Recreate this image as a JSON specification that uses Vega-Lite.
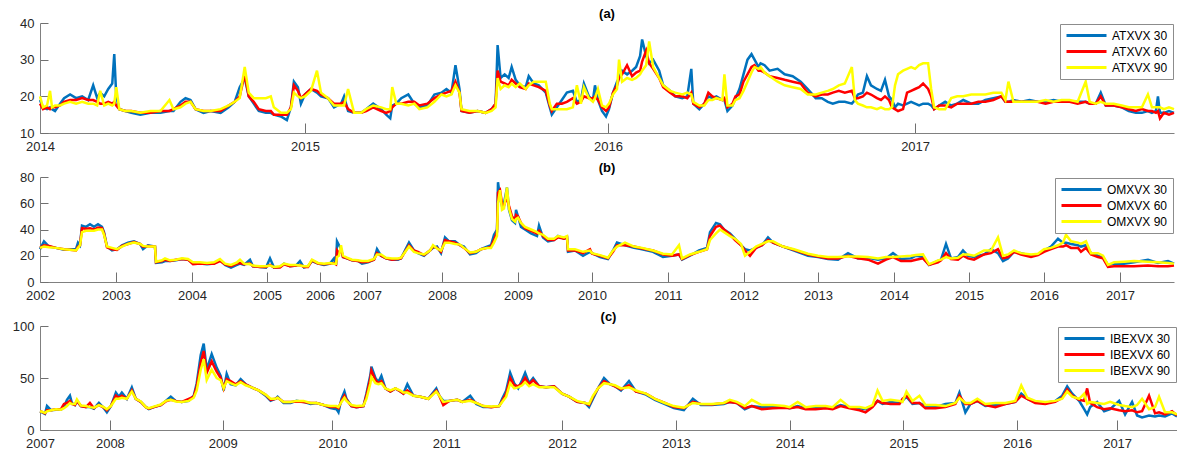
{
"$schema": "https://vega.github.io/schema/vega-lite/v6.json",
"padding": {"left": 12, "top": 8, "right": 0, "bottom": 0},
"bounds": "flush",
"spacing": 44,
"config": {
 "font": "Liberation Sans",
 "view": {"stroke": null},
 "axis": {"grid": false, "domainColor": "#808080", "tickColor": "#707070", "tickWidth": 1, "labelColor": "#262626", "labelFontSize": 13, "labelFont": "Liberation Sans", "labelFlush": false, "labelOverlap": false, "title": null},
 "axisX": {"tickSize": -10, "labelPadding": 17},
 "axisY": {"tickSize": -8, "labelPadding": 14},
 "title": {"fontSize": 13, "fontWeight": "bold", "color": "#000000", "offset": -4, "anchor": "middle", "frame": "group", "font": "Liberation Sans"},
 "legend": {"labelFontSize": 12, "labelColor": "#000000", "labelFont": "Liberation Sans", "padding": 5, "rowPadding": 3, "strokeColor": "#8c8c8c", "fillColor": "#ffffff", "cornerRadius": 0}
},
"resolve": {"scale": {"color": "independent"}},
"vconcat": [
{
 "width": 1134, "height": 110,
 "title": {"text": "(a)"},
 "data": {"values": [
{"t":0,"30":19,"60":18,"90":20},{"t":3,"30":17,"60":16.5,"90":17},{"t":7,"30":16.5,"60":17,"90":17.5},{"t":10,"30":17,"60":16.5,"90":21.5},{"t":12,"30":16.5,"60":17,"90":17},{"t":15,"30":16,"60":17,"90":17.5},{"t":20,"30":18,"60":17.5,"90":17.5},{"t":24,"30":19.5,"60":18.5,"90":18},{"t":30,"30":20.5,"60":19,"90":18.5},{"t":36,"30":19.5,"60":19,"90":18},{"t":42,"30":20,"60":19.5,"90":18.5},{"t":48,"30":19,"60":19,"90":18},{"t":53,"30":23,"60":19,"90":18},{"t":57,"30":19.5,"60":18.5,"90":17.5},{"t":60,"30":21,"60":18,"90":21.5},{"t":64,"30":20,"60":18,"90":17.5},{"t":68,"30":22,"60":18.5,"90":18},{"t":72,"30":23.5,"60":18,"90":17.5},{"t":74,"30":31.5,"60":18.5,"90":18},{"t":76,"30":20,"60":17.5,"90":22.5},{"t":79,"30":16.5,"60":16.5,"90":16.5},{"t":85,"30":16,"60":16,"90":16},{"t":91,"30":15.5,"60":16,"90":16},{"t":100,"30":15,"60":15.5,"90":15.5},{"t":110,"30":15.5,"60":15.5,"90":16},{"t":120,"30":15.5,"60":16,"90":16},{"t":129,"30":16,"60":16,"90":19},{"t":133,"30":16,"60":16.5,"90":16.5},{"t":140,"30":18.5,"60":17.5,"90":17},{"t":145,"30":19.5,"60":18.5,"90":18},{"t":150,"30":19,"60":18.5,"90":18.5},{"t":155,"30":16.5,"60":16.5,"90":16.5},{"t":163,"30":15.5,"60":16,"90":16},{"t":170,"30":16,"60":16,"90":16},{"t":180,"30":15.5,"60":16,"90":16.5},{"t":188,"30":17,"60":17.5,"90":17.5},{"t":194,"30":18.5,"60":18.5,"90":18.5},{"t":199,"30":22.5,"60":20,"90":19.5},{"t":204,"30":25,"60":26,"90":28},{"t":208,"30":20,"60":20,"90":21},{"t":213,"30":18,"60":18.5,"90":19.5},{"t":218,"30":16,"60":16.5,"90":19.5},{"t":225,"30":15.5,"60":16,"90":19.5},{"t":230,"30":15.5,"60":16,"90":20},{"t":233,"30":15,"60":15,"90":17},{"t":240,"30":14.5,"60":15,"90":15.5},{"t":246,"30":13.5,"60":15,"90":15.5},{"t":250,"30":17,"60":17,"90":16.5},{"t":253,"30":24,"60":23,"90":21},{"t":257,"30":22.5,"60":21.5,"90":20},{"t":260,"30":18,"60":19.5,"90":19.5},{"t":264,"30":20.5,"60":20.5,"90":20},{"t":270,"30":22,"60":22,"90":21.5},{"t":276,"30":21,"60":21.5,"90":27},{"t":280,"30":20,"60":20.5,"90":21},{"t":287,"30":19.5,"60":19.5,"90":19.5},{"t":293,"30":17,"60":18,"90":17.5},{"t":300,"30":18,"60":18,"90":17.5},{"t":303,"30":20,"60":18.5,"90":17.5},{"t":307,"30":16,"60":16.5,"90":22},{"t":313,"30":15.5,"60":15.5,"90":15.5},{"t":320,"30":15.5,"60":15.5,"90":15.5},{"t":325,"30":16.5,"60":16,"90":16.5},{"t":332,"30":18,"60":17,"90":17.5},{"t":340,"30":16.5,"60":16,"90":17},{"t":345,"30":15,"60":15.5,"90":16.5},{"t":349,"30":14,"60":16,"90":16.5},{"t":351,"30":17.5,"60":17,"90":22.5},{"t":355,"30":18,"60":18,"90":18},{"t":360,"30":19.5,"60":18,"90":18},{"t":367,"30":20.5,"60":18.5,"90":17.5},{"t":373,"30":18,"60":18.5,"90":18},{"t":378,"30":17,"60":17.5,"90":16.5},{"t":386,"30":17.5,"60":18,"90":17},{"t":393,"30":20.5,"60":19.5,"90":18.5},{"t":400,"30":21,"60":20.5,"90":20.5},{"t":405,"30":22,"60":21,"90":20},{"t":410,"30":21,"60":21.5,"90":20.5},{"t":414,"30":28.5,"60":24,"90":23},{"t":418,"30":22,"60":21,"90":21},{"t":420,"30":16,"60":16,"90":16.5},{"t":428,"30":15.5,"60":15.5,"90":16},{"t":436,"30":16,"60":16,"90":16},{"t":444,"30":15.5,"60":15.5,"90":15.5},{"t":450,"30":16.5,"60":16.5,"90":16},{"t":454,"30":18,"60":18,"90":17},{"t":456,"30":34,"60":27,"90":25},{"t":459,"30":25,"60":24,"90":22},{"t":463,"30":26,"60":23.5,"90":23},{"t":467,"30":25,"60":23,"90":22.5},{"t":470,"30":28,"60":24.5,"90":23.5},{"t":474,"30":24.5,"60":23.5,"90":22.5},{"t":478,"30":23,"60":22.5,"90":23.5},{"t":484,"30":22.5,"60":22,"90":22},{"t":487,"30":25.5,"60":23.5,"90":23},{"t":492,"30":23.5,"60":23,"90":24},{"t":497,"30":23,"60":22.5,"90":24},{"t":504,"30":21,"60":21.5,"90":24},{"t":508,"30":17,"60":17.5,"90":18},{"t":510,"30":15,"60":16,"90":16.5},{"t":515,"30":17,"60":18,"90":16.5},{"t":520,"30":19,"60":18,"90":16.5},{"t":525,"30":21,"60":18.5,"90":16.5},{"t":531,"30":21.5,"60":19.5,"90":17},{"t":535,"30":18.5,"60":18,"90":23},{"t":539,"30":19,"60":18.5,"90":18},{"t":542,"30":23.5,"60":20,"90":22.5},{"t":547,"30":20,"60":19.5,"90":19.5},{"t":551,"30":19,"60":19.5,"90":18.5},{"t":553,"30":23,"60":20,"90":19.5},{"t":556,"30":19,"60":19,"90":22},{"t":560,"30":16,"60":17,"90":17.5},{"t":564,"30":14.5,"60":16,"90":17},{"t":567,"30":16.5,"60":17,"90":18},{"t":571,"30":21,"60":21,"90":20.5},{"t":575,"30":24,"60":23,"90":22},{"t":577,"30":25,"60":25,"90":30},{"t":580,"30":27,"60":26,"90":24},{"t":585,"30":26,"60":28.5,"90":25},{"t":590,"30":27,"60":25.5,"90":24.5},{"t":594,"30":28,"60":26.5,"90":25},{"t":598,"30":31,"60":27,"90":26},{"t":600,"30":35.5,"60":29.5,"90":27},{"t":604,"30":31,"60":32.5,"90":28.5},{"t":607,"30":29,"60":29,"90":35},{"t":611,"30":30,"60":27.5,"90":28},{"t":617,"30":27,"60":25,"90":25},{"t":621,"30":23,"60":22.5,"90":23},{"t":628,"30":21.5,"60":21,"90":21.5},{"t":633,"30":20,"60":20,"90":21},{"t":640,"30":19.5,"60":20,"90":20.5},{"t":645,"30":20,"60":19.5,"90":21},{"t":649,"30":27.5,"60":21,"90":20.5},{"t":651,"30":18,"60":18,"90":18.5},{"t":657,"30":16.5,"60":17,"90":17.5},{"t":662,"30":18,"60":18,"90":17.5},{"t":666,"30":20,"60":21,"90":19},{"t":670,"30":19.5,"60":20,"90":19},{"t":674,"30":20,"60":19.5,"90":19.5},{"t":680,"30":19,"60":19,"90":19},{"t":682,"30":19,"60":19.5,"90":26},{"t":685,"30":16,"60":17,"90":17.5},{"t":690,"30":17.5,"60":18,"90":17.5},{"t":693,"30":19.5,"60":20,"90":19},{"t":697,"30":22,"60":20.5,"90":19.5},{"t":701,"30":26,"60":24,"90":21.5},{"t":705,"30":30,"60":26,"90":24},{"t":709,"30":31.5,"60":28,"90":26.5},{"t":712,"30":30,"60":28.5,"90":28},{"t":716,"30":28,"60":27,"90":27.5},{"t":718,"30":29,"60":27,"90":28},{"t":722,"30":28.5,"60":26.5,"90":26.5},{"t":727,"30":27,"60":25.5,"90":25.5},{"t":735,"30":27.5,"60":25,"90":24},{"t":742,"30":26,"60":24.5,"90":23},{"t":750,"30":25.5,"60":24,"90":22.5},{"t":758,"30":24,"60":23.5,"90":22},{"t":765,"30":22,"60":21,"90":20.5},{"t":773,"30":19.5,"60":20,"90":20.5},{"t":779,"30":19.5,"60":20.5,"90":21},{"t":785,"30":18.5,"60":20.5,"90":21.5},{"t":790,"30":18,"60":21,"90":22},{"t":796,"30":18.5,"60":21.5,"90":23},{"t":802,"30":18.5,"60":21,"90":23.5},{"t":809,"30":18,"60":21.5,"90":28},{"t":812,"30":19,"60":19.5,"90":19},{"t":815,"30":20.5,"60":19.5,"90":18},{"t":820,"30":21,"60":20,"90":17.5},{"t":824,"30":25.5,"60":21,"90":17},{"t":828,"30":23,"60":20.5,"90":17},{"t":834,"30":22,"60":19.5,"90":16.5},{"t":838,"30":21.5,"60":19,"90":17},{"t":842,"30":24.5,"60":20,"90":16.5},{"t":846,"30":20,"60":19,"90":16.5},{"t":849,"30":19,"60":17,"90":17},{"t":852,"30":17,"60":16.5,"90":23},{"t":855,"30":18,"60":16,"90":26},{"t":860,"30":17.5,"60":16.5,"90":27},{"t":864,"30":18,"60":21,"90":27.5},{"t":868,"30":18.5,"60":21.5,"90":28},{"t":872,"30":18,"60":22,"90":27.5},{"t":876,"30":17.5,"60":22.5,"90":28.5},{"t":880,"30":18,"60":23.5,"90":29},{"t":885,"30":18,"60":22,"90":29},{"t":888,"30":17.5,"60":20,"90":22},{"t":891,"30":16.5,"60":16.5,"90":17},{"t":896,"30":17.5,"60":17.5,"90":16.5},{"t":902,"30":18.5,"60":17.5,"90":16.5},{"t":908,"30":17.5,"60":17,"90":19.5},{"t":914,"30":18,"60":18,"90":20},{"t":920,"30":19,"60":18,"90":20},{"t":928,"30":18,"60":18,"90":20.5},{"t":935,"30":18,"60":18.5,"90":20.5},{"t":942,"30":19,"60":18.5,"90":20.5},{"t":950,"30":19.5,"60":19,"90":21},{"t":958,"30":20,"60":20,"90":21},{"t":962,"30":18.5,"60":18.5,"90":19},{"t":965,"30":18.5,"60":18.5,"90":24},{"t":970,"30":19,"60":18.5,"90":18.5},{"t":978,"30":18.5,"60":18.5,"90":18.5},{"t":986,"30":19,"60":18.5,"90":18.5},{"t":994,"30":18.5,"60":18.5,"90":18.5},{"t":1002,"30":18.5,"60":18,"90":19},{"t":1010,"30":19,"60":18.5,"90":18.5},{"t":1018,"30":18.5,"60":18.5,"90":19},{"t":1026,"30":18.5,"60":18.5,"90":19},{"t":1034,"30":18.5,"60":18,"90":18.5},{"t":1042,"30":18.5,"60":18.5,"90":24},{"t":1046,"30":18,"60":18,"90":18.5},{"t":1052,"30":18,"60":18,"90":18},{"t":1057,"30":21,"60":20,"90":18.5},{"t":1062,"30":17.5,"60":17.5,"90":18},{"t":1070,"30":17.5,"60":17.5,"90":18},{"t":1078,"30":17,"60":17,"90":17.5},{"t":1085,"30":16,"60":16.5,"90":17},{"t":1092,"30":15.5,"60":16,"90":17},{"t":1098,"30":15.5,"60":16.5,"90":17},{"t":1104,"30":16,"60":16,"90":20.5},{"t":1108,"30":15.5,"60":16,"90":17},{"t":1112,"30":16,"60":15.5,"90":17},{"t":1114,"30":20,"60":16,"90":17},{"t":1116,"30":15.5,"60":14,"90":17},{"t":1120,"30":15.5,"60":15.5,"90":16.5},{"t":1125,"30":16,"60":15,"90":17},{"t":1130,"30":15.5,"60":15.5,"90":16.5}
 ]},
 "transform": [{"fold": ["30","60","90"], "as": ["k","v"]}],
 "mark": {"type": "line", "strokeWidth": 2.5},
 "encoding": {
  "x": {"field": "t", "type": "quantitative", "scale": {"domain": [0,1130], "nice": false, "zero": false}, "axis": {"values": [0,264,566,872], "labelExpr": "['2014','2015','2016','2017'][indexof([0,264,566,872], datum.value)]"}},
  "y": {"field": "v", "type": "quantitative", "scale": {"domain": [10,40], "nice": false, "zero": false}, "axis": {"values": [10,20,30,40]}},
  "color": {"field": "k", "type": "nominal", "scale": {"domain": ["30","60","90"], "range": ["#0072BD","#FF0000","#FFFF00"]}, "legend": {"orient": "top-right", "offset": 1, "title": null, "symbolType": "M-1,0H7", "symbolSize": 100, "symbolStrokeWidth": 3, "labelOffset": 34, "labelExpr": "'ATXVX ' + datum.label"}}
 }
},
{
 "width": 1134, "height": 105,
 "title": {"text": "(b)"},
 "data": {"values": [
{"t":0,"30":25,"60":26,"90":26},{"t":4,"30":31,"60":28,"90":27},{"t":9,"30":27,"60":27.5,"90":26.5},{"t":16,"30":26,"60":26,"90":26},{"t":24,"30":24.5,"60":25,"90":25},{"t":30,"30":25,"60":24.5,"90":24.5},{"t":36,"30":25,"60":24,"90":24},{"t":38,"30":30,"60":27,"90":26},{"t":40,"30":28,"60":28,"90":28},{"t":42,"30":43,"60":41,"90":38},{"t":46,"30":42,"60":40.5,"90":39},{"t":50,"30":44,"60":41,"90":39},{"t":54,"30":42,"60":40,"90":39},{"t":58,"30":44,"60":41.5,"90":40},{"t":62,"30":42,"60":41,"90":40},{"t":64,"30":38,"60":37,"90":36},{"t":67,"30":27,"60":26.5,"90":27},{"t":72,"30":24,"60":25,"90":26},{"t":77,"30":25,"60":24.5,"90":25},{"t":82,"30":28,"60":27.5,"90":27},{"t":88,"30":30,"60":29,"90":29},{"t":94,"30":31,"60":30.5,"90":30},{"t":100,"30":29,"60":29,"90":29},{"t":103,"30":25,"60":27,"90":27.5},{"t":108,"30":28,"60":27.5,"90":27},{"t":115,"30":27,"60":27,"90":27},{"t":116,"30":14.5,"60":15,"90":15.5},{"t":122,"30":15,"60":16,"90":16.5},{"t":125,"30":16,"60":17,"90":18},{"t":130,"30":16,"60":16,"90":16.5},{"t":136,"30":16.5,"60":17,"90":17},{"t":142,"30":17.5,"60":17.5,"90":18},{"t":148,"30":17,"60":17,"90":17.5},{"t":153,"30":14.5,"60":13.5,"90":15},{"t":160,"30":14,"60":14,"90":15},{"t":167,"30":13.5,"60":14,"90":14.5},{"t":174,"30":14,"60":14,"90":15},{"t":180,"30":17,"60":16,"90":17.5},{"t":185,"30":13,"60":13.5,"90":14},{"t":191,"30":11,"60":12,"90":13},{"t":197,"30":13,"60":14,"90":15},{"t":200,"30":14,"60":14.5,"90":17},{"t":204,"30":13,"60":13.5,"90":14},{"t":210,"30":17,"60":14,"90":13.5},{"t":213,"30":12,"60":12,"90":12.5},{"t":220,"30":11.5,"60":11.5,"90":12},{"t":226,"30":11,"60":11.5,"90":12},{"t":230,"30":18,"60":13,"90":12.5},{"t":234,"30":11,"60":11,"90":11.5},{"t":240,"30":11.5,"60":11,"90":12},{"t":244,"30":14,"60":13.5,"90":14},{"t":250,"30":12,"60":12,"90":13},{"t":256,"30":12.5,"60":12.5,"90":13},{"t":260,"30":16,"60":13,"90":12.5},{"t":264,"30":11,"60":11.5,"90":12},{"t":268,"30":12,"60":11.5,"90":12},{"t":272,"30":16,"60":16.5,"90":17},{"t":278,"30":14,"60":14,"90":14.5},{"t":284,"30":13,"60":13.5,"90":14},{"t":290,"30":14,"60":14,"90":14.5},{"t":294,"30":18,"60":14.5,"90":14},{"t":296,"30":13,"60":13.5,"90":14},{"t":297,"30":31,"60":24,"90":19},{"t":299,"30":28,"60":22,"90":20},{"t":301,"30":25,"60":25,"90":28},{"t":303,"30":19,"60":19,"90":20},{"t":307,"30":18,"60":18,"90":18.5},{"t":312,"30":16.5,"60":16.5,"90":17},{"t":318,"30":16,"60":16,"90":16.5},{"t":322,"30":14,"60":15,"90":16},{"t":328,"30":15,"60":15.5,"90":16},{"t":334,"30":17,"60":17,"90":17.5},{"t":337,"30":25,"60":22,"90":21},{"t":341,"30":20,"60":20,"90":21},{"t":346,"30":18,"60":18,"90":18.5},{"t":352,"30":17,"60":17,"90":18},{"t":358,"30":17,"60":17.5,"90":18},{"t":361,"30":18,"60":18,"90":18.5},{"t":369,"30":30,"60":28,"90":27},{"t":374,"30":24,"60":24,"90":23},{"t":378,"30":22,"60":23,"90":22},{"t":384,"30":20,"60":20.5,"90":21},{"t":390,"30":24,"60":24,"90":24},{"t":393,"30":26,"60":27,"90":28},{"t":397,"30":27,"60":26,"90":25.5},{"t":401,"30":22,"60":23,"90":24},{"t":405,"30":34,"60":32,"90":30},{"t":409,"30":31,"60":31,"90":30},{"t":415,"30":31,"60":30,"90":29},{"t":420,"30":28,"60":28,"90":28.5},{"t":424,"30":27,"60":26,"90":26},{"t":430,"30":21,"60":22,"90":22.5},{"t":436,"30":22,"60":23,"90":23},{"t":441,"30":25,"60":25,"90":25},{"t":447,"30":27,"60":26,"90":26},{"t":451,"30":28,"60":27,"90":26},{"t":454,"30":36,"60":32,"90":30},{"t":457,"30":40,"60":38,"90":35},{"t":458,"30":76,"60":68,"90":60},{"t":460,"30":64,"60":70,"90":70},{"t":462,"30":58,"60":60,"90":55},{"t":464,"30":60,"60":58,"90":56},{"t":467,"30":72,"60":65,"90":72},{"t":469,"30":55,"60":58,"90":56},{"t":472,"30":47,"60":50,"90":48},{"t":475,"30":45,"60":47,"90":46},{"t":476,"30":55,"60":51,"90":48},{"t":478,"30":50,"60":50,"90":49},{"t":481,"30":42,"60":45,"90":45},{"t":485,"30":40,"60":41,"90":42},{"t":491,"30":37,"60":39,"90":40},{"t":497,"30":35,"60":37,"90":38},{"t":499,"30":43,"60":39,"90":37},{"t":503,"30":34,"60":35,"90":36},{"t":508,"30":31,"60":32,"90":33},{"t":514,"30":32,"60":32,"90":33},{"t":518,"30":35,"60":34,"90":35},{"t":524,"30":33,"60":33,"90":34},{"t":527,"30":34,"60":34,"90":35},{"t":528,"30":23,"60":24,"90":25},{"t":535,"30":24,"60":24,"90":25},{"t":543,"30":20,"60":22,"90":23},{"t":550,"30":23,"60":25,"90":24},{"t":552,"30":22,"60":21.5,"90":22},{"t":560,"30":19,"60":20,"90":20.5},{"t":568,"30":17.5,"60":18,"90":18.5},{"t":573,"30":24,"60":23,"90":24},{"t":577,"30":30,"60":28,"90":27},{"t":585,"30":28,"60":28,"90":30},{"t":594,"30":26,"60":27,"90":27},{"t":602,"30":25,"60":25.5,"90":26},{"t":613,"30":23,"60":24,"90":24},{"t":623,"30":19,"60":21,"90":21.5},{"t":632,"30":20,"60":20,"90":21},{"t":639,"30":21,"60":21,"90":28},{"t":642,"30":17,"60":17.5,"90":18},{"t":650,"30":20,"60":20.5,"90":21},{"t":659,"30":24,"60":23,"90":23},{"t":667,"30":26,"60":25,"90":25},{"t":670,"30":38,"60":35,"90":32},{"t":676,"30":45,"60":42,"90":37},{"t":680,"30":44,"60":43,"90":40},{"t":684,"30":40,"60":40,"90":38},{"t":690,"30":37,"60":36,"90":35},{"t":695,"30":33,"60":32,"90":33},{"t":701,"30":28,"60":28,"90":29},{"t":705,"30":25,"60":24,"90":20},{"t":710,"30":24,"60":20,"90":23},{"t":716,"30":26,"60":26,"90":27},{"t":722,"30":28,"60":28,"90":29},{"t":728,"30":34,"60":32,"90":31},{"t":733,"30":30,"60":30,"90":31},{"t":743,"30":27,"60":27,"90":27},{"t":754,"30":24,"60":24.5,"90":25},{"t":768,"30":20,"60":21,"90":21.5},{"t":778,"30":19,"60":19.5,"90":20},{"t":788,"30":17.5,"60":18,"90":19},{"t":798,"30":17,"60":18,"90":19},{"t":808,"30":22,"60":20,"90":19.5},{"t":818,"30":18,"60":18,"90":19.5},{"t":828,"30":18.5,"60":17,"90":19},{"t":838,"30":17,"60":14,"90":18},{"t":846,"30":18,"60":17,"90":19},{"t":853,"30":22,"60":19,"90":19},{"t":861,"30":17.5,"60":16,"90":19.5},{"t":871,"30":18,"60":16,"90":20},{"t":876,"30":20,"60":17,"90":20.5},{"t":883,"30":19,"60":18,"90":21},{"t":889,"30":13,"60":13,"90":13.5},{"t":898,"30":16,"60":15,"90":16.5},{"t":901,"30":17,"60":16.5,"90":17},{"t":906,"30":29,"60":22,"90":19},{"t":911,"30":18,"60":17.5,"90":18},{"t":918,"30":19,"60":17,"90":18.5},{"t":923,"30":24,"60":20,"90":21},{"t":928,"30":20,"60":18,"90":21},{"t":934,"30":19,"60":17,"90":20},{"t":944,"30":21,"60":21,"90":24},{"t":951,"30":25,"60":22,"90":24},{"t":958,"30":22,"60":25,"90":34},{"t":963,"30":16,"60":18,"90":20},{"t":968,"30":18,"60":19,"90":21},{"t":974,"30":23,"60":23,"90":24},{"t":981,"30":22,"60":21,"90":22},{"t":991,"30":20,"60":19,"90":21},{"t":998,"30":21,"60":20.5,"90":21.5},{"t":1004,"30":24,"60":23,"90":25},{"t":1011,"30":27,"60":25,"90":26},{"t":1018,"30":33,"60":27,"90":28},{"t":1023,"30":30,"60":27,"90":30},{"t":1026,"30":30,"60":28,"90":36},{"t":1031,"30":29,"60":26,"90":31},{"t":1038,"30":28,"60":26,"90":30},{"t":1041,"30":27,"60":23,"90":29},{"t":1046,"30":28,"60":26,"90":31},{"t":1051,"30":22,"60":21,"90":22},{"t":1058,"30":20,"60":19,"90":22},{"t":1063,"30":19,"60":18,"90":20},{"t":1068,"30":13,"60":11.5,"90":13},{"t":1074,"30":14,"60":12,"90":15},{"t":1084,"30":14,"60":12,"90":15.5},{"t":1094,"30":15,"60":12,"90":16},{"t":1108,"30":17,"60":12.5,"90":15.5},{"t":1118,"30":14.5,"60":12,"90":15},{"t":1128,"30":16,"60":12,"90":14.5},{"t":1134,"30":14,"60":12.5,"90":14}
 ]},
 "transform": [{"fold": ["30","60","90"], "as": ["k","v"]}],
 "mark": {"type": "line", "strokeWidth": 2.5},
 "encoding": {
  "x": {"field": "t", "type": "quantitative", "scale": {"domain": [0,1134], "nice": false, "zero": false}, "axis": {"values": [0,76,152,227,280,327,402,478,552,628,704,778,854,929,1004,1080], "labelExpr": "['2002','2003','2004','2005','2006','2007','2008','2009','2010','2011','2012','2013','2014','2015','2016','2017'][indexof([0,76,152,227,280,327,402,478,552,628,704,778,854,929,1004,1080], datum.value)]"}},
  "y": {"field": "v", "type": "quantitative", "scale": {"domain": [0,80], "nice": false, "zero": false}, "axis": {"values": [0,20,40,60,80]}},
  "color": {"field": "k", "type": "nominal", "scale": {"domain": ["30","60","90"], "range": ["#0072BD","#FF0000","#FFFF00"]}, "legend": {"orient": "top-right", "offset": 1, "title": null, "symbolType": "M-1,0H7", "symbolSize": 100, "symbolStrokeWidth": 3, "labelOffset": 34, "labelExpr": "'OMXVX ' + datum.label"}}
 }
},
{
 "width": 1137, "height": 104,
 "title": {"text": "(c)"},
 "data": {"values": [
{"t":0,"30":18,"60":18,"90":18},{"t":2,"30":17,"60":17.5,"90":17.5},{"t":5,"30":15.5,"60":16,"90":16.5},{"t":7,"30":23,"60":19,"90":18},{"t":11,"30":19,"60":19,"90":19},{"t":16,"30":19.5,"60":20,"90":20},{"t":21,"30":19.5,"60":20,"90":19.5},{"t":24,"30":22,"60":25,"90":21},{"t":27,"30":29,"60":26,"90":23},{"t":30,"30":33,"60":28,"90":26},{"t":32,"30":26,"60":25,"90":25},{"t":35,"30":24,"60":24,"90":25},{"t":37,"30":28,"60":28,"90":29.5},{"t":41,"30":23,"60":23,"90":23.5},{"t":46,"30":22,"60":22,"90":23},{"t":50,"30":22,"60":26,"90":22},{"t":54,"30":20.5,"60":21,"90":21.5},{"t":59,"30":26,"60":24,"90":24},{"t":64,"30":21,"60":21.5,"90":22},{"t":67,"30":17,"60":19,"90":20},{"t":71,"30":23,"60":23,"90":23},{"t":76,"30":36,"60":33,"90":30},{"t":79,"30":32,"60":31,"90":30},{"t":82,"30":36,"60":33,"90":31},{"t":87,"30":30,"60":30,"90":30},{"t":92,"30":41,"60":38,"90":37},{"t":96,"30":30,"60":30,"90":30},{"t":101,"30":27,"60":27,"90":27.5},{"t":106,"30":22,"60":22,"90":22},{"t":109,"30":20,"60":20.5,"90":21},{"t":114,"30":22,"60":22,"90":22.5},{"t":121,"30":24,"60":24,"90":24.5},{"t":126,"30":28,"60":27.5,"90":28},{"t":131,"30":32,"60":29,"90":29},{"t":136,"30":28,"60":28,"90":27.5},{"t":142,"30":27,"60":27,"90":27},{"t":149,"30":28,"60":30,"90":28},{"t":154,"30":33,"60":32,"90":31},{"t":157,"30":45,"60":42,"90":38},{"t":161,"30":72,"60":65,"90":58},{"t":164,"30":83,"60":76,"90":68},{"t":167,"30":58,"60":55,"90":48},{"t":172,"30":73,"60":66,"90":58},{"t":177,"30":60,"60":56,"90":50},{"t":181,"30":52,"60":50,"90":48},{"t":184,"30":38,"60":40,"90":40},{"t":187,"30":54,"60":49,"90":47},{"t":191,"30":44,"60":47,"90":45},{"t":196,"30":43,"60":44,"90":43},{"t":201,"30":49,"60":47,"90":46},{"t":206,"30":44,"60":44,"90":43},{"t":212,"30":41,"60":41,"90":41},{"t":219,"30":38,"60":38,"90":38},{"t":226,"30":33,"60":34,"90":34},{"t":231,"30":28,"60":29,"90":30},{"t":236,"30":30,"60":30,"90":30},{"t":238,"30":32,"60":31,"90":31},{"t":244,"30":26,"60":27,"90":27},{"t":251,"30":26,"60":27,"90":27},{"t":257,"30":28,"60":27.5,"90":28},{"t":264,"30":27,"60":27,"90":28},{"t":271,"30":25,"60":26,"90":26},{"t":277,"30":26,"60":26,"90":26},{"t":284,"30":24,"60":24,"90":24},{"t":291,"30":21,"60":22,"90":23},{"t":297,"30":20,"60":22,"90":23},{"t":299,"30":17,"60":21,"90":22},{"t":302,"30":30,"60":28,"90":27},{"t":305,"30":37,"60":33,"90":31},{"t":307,"30":30,"60":29,"90":28},{"t":312,"30":23,"60":23,"90":24},{"t":317,"30":22,"60":22,"90":23},{"t":324,"30":23,"60":23,"90":23.5},{"t":327,"30":35,"60":33,"90":30},{"t":331,"30":53,"60":50,"90":45},{"t":332,"30":61,"60":57,"90":51},{"t":336,"30":50,"60":48,"90":45},{"t":339,"30":46,"60":45,"90":44},{"t":342,"30":52,"60":47,"90":45},{"t":346,"30":40,"60":40,"90":40},{"t":351,"30":37,"60":37,"90":38},{"t":356,"30":40,"60":40,"90":40},{"t":361,"30":37,"60":37,"90":38},{"t":364,"30":35,"60":35,"90":36},{"t":368,"30":44,"60":38,"90":36},{"t":374,"30":33,"60":33,"90":33},{"t":381,"30":32,"60":32,"90":32},{"t":389,"30":30,"60":30,"90":30},{"t":397,"30":40,"60":38,"90":37},{"t":400,"30":33,"60":33,"90":33},{"t":404,"30":28,"60":24,"90":27},{"t":410,"30":28,"60":28,"90":28},{"t":418,"30":29,"60":29,"90":29},{"t":423,"30":27,"60":27,"90":27},{"t":431,"30":33,"60":29,"90":28},{"t":437,"30":25,"60":26,"90":26},{"t":444,"30":22,"60":23,"90":23},{"t":452,"30":22,"60":22,"90":22.5},{"t":460,"30":23,"60":23,"90":23},{"t":463,"30":30,"60":28,"90":27},{"t":467,"30":38,"60":35,"90":32},{"t":471,"30":55,"60":50,"90":45},{"t":475,"30":45,"60":43,"90":40},{"t":479,"30":40,"60":42,"90":41},{"t":483,"30":48,"60":45,"90":43},{"t":486,"30":55,"60":50,"90":46},{"t":490,"30":45,"60":44,"90":42},{"t":494,"30":50,"60":48,"90":44},{"t":500,"30":42,"60":42,"90":41},{"t":507,"30":41,"60":41,"90":41},{"t":515,"30":42,"60":42,"90":41},{"t":523,"30":35,"60":35,"90":35},{"t":530,"30":32,"60":32,"90":32},{"t":538,"30":27,"60":27,"90":28},{"t":546,"30":26,"60":26,"90":26},{"t":550,"30":22,"60":24,"90":25},{"t":554,"30":30,"60":32,"90":33},{"t":559,"30":40,"60":40,"90":40},{"t":565,"30":50,"60":47,"90":45},{"t":571,"30":44,"60":44,"90":44},{"t":576,"30":42,"60":42,"90":43},{"t":582,"30":38,"60":39,"90":40},{"t":590,"30":47,"60":43,"90":41},{"t":597,"30":37,"60":37,"90":38},{"t":607,"30":34,"60":35,"90":35},{"t":616,"30":29,"60":30,"90":30},{"t":626,"30":25,"60":26,"90":26},{"t":635,"30":21,"60":22,"90":23},{"t":645,"30":19,"60":21,"90":21.5},{"t":654,"30":30,"60":27,"90":26},{"t":662,"30":24,"60":25,"90":25},{"t":673,"30":24,"60":24.5,"90":25},{"t":685,"30":25,"60":26,"90":26},{"t":691,"30":27,"60":27,"90":29},{"t":698,"30":26,"60":26,"90":27},{"t":706,"30":20,"60":21,"90":23},{"t":713,"30":23,"60":23,"90":29},{"t":723,"30":22,"60":20,"90":24},{"t":734,"30":22,"60":21,"90":24},{"t":746,"30":22,"60":21.5,"90":23},{"t":751,"30":21,"60":21,"90":22},{"t":759,"30":23,"60":22,"90":27},{"t":767,"30":21,"60":20,"90":22},{"t":777,"30":21,"60":20,"90":23},{"t":787,"30":22,"60":21,"90":23},{"t":794,"30":21,"60":20,"90":22},{"t":802,"30":24,"60":23,"90":29},{"t":811,"30":22,"60":21,"90":22},{"t":821,"30":21,"60":19,"90":22},{"t":827,"30":20,"60":17,"90":21},{"t":834,"30":23,"60":22,"90":24},{"t":839,"30":28,"60":28,"90":38},{"t":844,"30":25,"60":26,"90":28},{"t":852,"30":27,"60":25,"90":29},{"t":861,"30":26,"60":25,"90":28},{"t":864,"30":28,"60":30,"90":27},{"t":868,"30":32,"60":33,"90":37},{"t":874,"30":25,"60":26,"90":28},{"t":881,"30":26,"60":26,"90":33},{"t":887,"30":23,"60":21,"90":24},{"t":897,"30":22,"60":21,"90":24},{"t":907,"30":25,"60":22,"90":23},{"t":917,"30":26,"60":25,"90":26},{"t":921,"30":36,"60":33,"90":31},{"t":927,"30":17,"60":25,"90":26},{"t":932,"30":25,"60":25,"90":26},{"t":939,"30":28,"60":28,"90":30},{"t":947,"30":23,"60":24,"90":25},{"t":957,"30":24,"60":22,"90":26},{"t":967,"30":25,"60":25,"90":26},{"t":977,"30":27,"60":27,"90":28},{"t":983,"30":35,"60":33,"90":43},{"t":989,"30":30,"60":30,"90":31},{"t":997,"30":27,"60":26,"90":28},{"t":1007,"30":26,"60":25,"90":27},{"t":1017,"30":28,"60":27,"90":28},{"t":1024,"30":33,"60":31,"90":30},{"t":1029,"30":42,"60":39,"90":37},{"t":1034,"30":35,"60":33,"90":32},{"t":1041,"30":28,"60":29,"90":30},{"t":1046,"30":20,"60":28,"90":35},{"t":1049,"30":15,"60":40,"90":25},{"t":1052,"30":22,"60":26,"90":27},{"t":1059,"30":27,"60":22,"90":26},{"t":1066,"30":18,"60":20,"90":25},{"t":1072,"30":20,"60":21,"90":27},{"t":1081,"30":28,"60":19,"90":24},{"t":1087,"30":15,"60":18,"90":23},{"t":1094,"30":27,"60":19,"90":22},{"t":1099,"30":14,"60":17,"90":24},{"t":1104,"30":12,"60":18,"90":30},{"t":1111,"30":14,"60":33,"90":20},{"t":1117,"30":13,"60":16,"90":22},{"t":1121,"30":14,"60":17,"90":32},{"t":1127,"30":13,"60":15,"90":17},{"t":1134,"30":16,"60":18,"90":17},{"t":1139,"30":13,"60":14,"90":15}
 ]},
 "transform": [{"fold": ["30","60","90"], "as": ["k","v"]}],
 "mark": {"type": "line", "strokeWidth": 2.5},
 "encoding": {
  "x": {"field": "t", "type": "quantitative", "scale": {"domain": [0,1139], "nice": false, "zero": false}, "axis": {"values": [0,70,183,293,407,523,637,751,865,979,1079], "labelExpr": "['2007','2008','2009','2010','2011','2012','2013','2014','2015','2016','2017'][indexof([0,70,183,293,407,523,637,751,865,979,1079], datum.value)]"}},
  "y": {"field": "v", "type": "quantitative", "scale": {"domain": [0,100], "nice": false, "zero": false}, "axis": {"values": [0,50,100]}},
  "color": {"field": "k", "type": "nominal", "scale": {"domain": ["30","60","90"], "range": ["#0072BD","#FF0000","#FFFF00"]}, "legend": {"orient": "top-right", "offset": 1, "title": null, "symbolType": "M-1,0H7", "symbolSize": 100, "symbolStrokeWidth": 3, "labelOffset": 34, "labelExpr": "'IBEXVX ' + datum.label"}}
 }
}
]
}
